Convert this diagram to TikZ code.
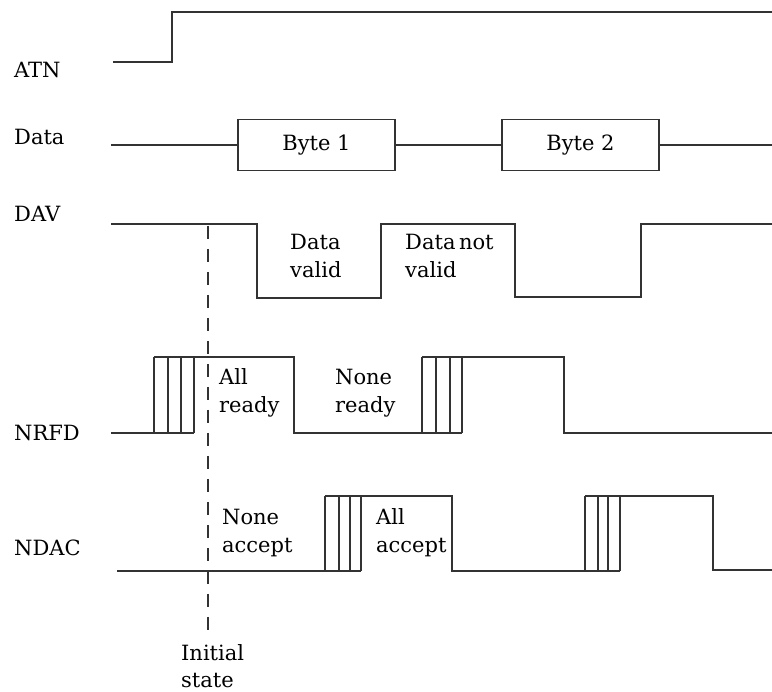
\documentclass[tikz,border=0pt]{standalone}
\usepackage{fontspec}
\setmainfont{DejaVu Serif}
\usetikzlibrary{positioning}

\begin{document}
\begin{tikzpicture}[x=1pt,y=-1pt,
      sig/.style={draw=black!80,line width=1.3pt},
      lbl/.style={anchor=base west,inner sep=0pt,align=left,
        font=\fontsize{21}{28}\selectfont},
      bytebox/.style={draw=black!80,line width=1.3pt,minimum width=157pt,
        minimum height=51pt,inner sep=0pt,font=\fontsize{21}{28}\selectfont}
    ]
    \useasboundingbox (0,0) rectangle (772,692);
    % signal names
    \node[lbl] (atn)  at (14,78)  {ATN};
    \node[lbl] (data) at (14,145) {Data};
    \node[lbl] (dav)  at (14,222) {DAV};
    \node[lbl] (nrfd) at (14,441) {NRFD};
    \node[lbl] (ndac) at (14,556) {NDAC};
    % ATN
    \draw[sig] (113,62) -- (172,62) -- (172,12) -- (772,12);
    % Data bus
    \node[bytebox] (byte1) at (316.5,145) {Byte 1};
    \node[bytebox] (byte2) at (580.5,145) {Byte 2};
    \coordinate (dstart) at (111,145);
    \coordinate (dend) at (772,145);
    \draw[sig] (dstart) -- (byte1);
    \draw[sig] (byte1) -- (byte2);
    \draw[sig] (byte2) -- (dend);
    % DAV
    \draw[sig] (111,224) -- (257,224) -- (257,298) -- (381,298) -- (381,224)
      -- (515,224) -- (515,297) -- (641,297) -- (641,224) -- (772,224);
    \node[lbl] (valid)    at (290,278) {Data\\valid};
    \node[lbl] (notvalid) at (405,278) {Data\,not\\valid};
    % NRFD
    \draw[sig] (111,433) -- (194,433);
    \draw[sig] (154,357) -- (294,357) -- (294,433) -- (462,433);
    \draw[sig] (422,357) -- (564,357) -- (564,433) -- (772,433);
    \foreach \x in {154,168,181,194,422,436,450,462}
      \draw[sig] (\x,433) -- (\x,357);
    \node[lbl] (allready)  at (219,413) {All\\ready};
    \node[lbl] (noneready) at (335,413) {None\\ready};
    % NDAC
    \draw[sig] (117,571) -- (361,571);
    \draw[sig] (325,496) -- (452,496) -- (452,571) -- (620,571);
    \draw[sig] (585,496) -- (713,496) -- (713,570) -- (772,570);
    \foreach \x in {325,339,350,361,585,598,608,620}
      \draw[sig] (\x,571) -- (\x,496);
    \node[lbl] (noneacc) at (222,553) {None\\accept};
    \node[lbl] (allacc)  at (376,553) {All\\accept};
    % initial state marker
    \coordinate (itop) at (208,226);
    \coordinate (ibot) at (208,632);
    \draw[sig,dash pattern=on 13pt off 10pt] (itop) -- (ibot);
    \node[lbl] (initial) at (181,688) {Initial\\state};
  \end{tikzpicture}
\end{document}
